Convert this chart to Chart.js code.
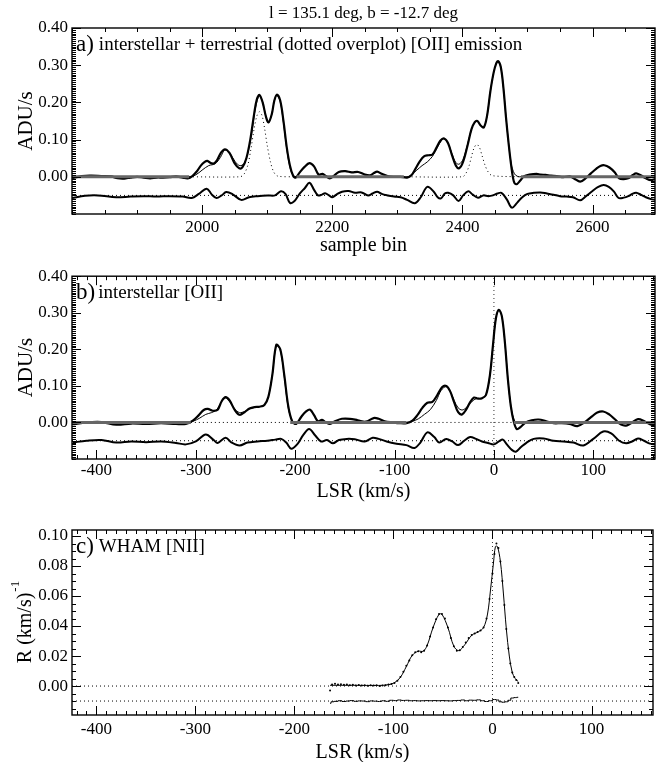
<!DOCTYPE html>
<html><head><meta charset="utf-8">
<script src="https://cdn.jsdelivr.net/npm/chart.js@4/dist/chart.umd.min.js"></script>
<style>
html,body{margin:0;padding:0;background:#fff;}
body{width:657px;height:762px;position:relative;overflow:hidden;font-family:'Liberation Serif',serif;}
canvas{position:absolute;left:0;}
</style></head>
<body>
<canvas id="ca" width="657" height="262" style="top:0px"></canvas>
<canvas id="cb" width="657" height="250" style="top:262px"></canvas>
<canvas id="cc" width="657" height="253" style="top:512px"></canvas>
<script>
// ---------------- DATA ----------------
const mainTitle = "l = 135.1 deg, b = -12.7 deg";
// Panel a: sample bin
const aXTicks = [2000, 2200, 2400, 2600];
const aYTicks = [0.0, 0.1, 0.2, 0.3, 0.4];
const aData = [[1800,-0.004],[1815,0.002],[1830,0.003],[1845,0.002],[1860,0.001],[1870,-0.004],[1880,-0.005],[1890,-0.002],[1900,0.0],[1910,-0.002],[1920,-0.004],[1930,-0.002],[1940,-0.002],[1950,-0.001],[1960,0.001],[1970,-0.002],[1978,-0.004],[1985,0.002],[1992,0.015],[1998,0.03],[2004,0.04],[2008,0.043],[2013,0.037],[2018,0.036],[2023,0.045],[2029,0.065],[2035,0.074],[2042,0.064],[2050,0.036],[2057,0.023],[2062,0.026],[2068,0.05],[2074,0.1],[2080,0.17],[2084,0.208],[2088,0.22],[2093,0.2],[2098,0.162],[2102,0.146],[2107,0.168],[2111,0.205],[2115,0.221],[2120,0.205],[2125,0.15],[2130,0.08],[2135,0.03],[2140,0.002],[2144,-0.002],[2150,0.012],[2157,0.026],[2165,0.037],[2172,0.028],[2179,0.006],[2185,0.008],[2190,0.002],[2196,-0.004],[2202,0.002],[2210,0.013],[2220,0.015],[2230,0.012],[2240,0.013],[2250,0.006],[2258,0.004],[2264,0.01],[2269,0.014],[2276,0.008],[2285,0.002],[2295,0.0],[2305,0.0],[2315,-0.002],[2322,0.005],[2328,0.022],[2334,0.04],[2341,0.055],[2348,0.058],[2354,0.06],[2360,0.078],[2366,0.097],[2372,0.103],[2378,0.09],[2384,0.058],[2390,0.03],[2395,0.023],[2401,0.04],[2408,0.085],[2414,0.128],[2419,0.147],[2423,0.15],[2428,0.138],[2433,0.133],[2438,0.165],[2443,0.23],[2448,0.28],[2452,0.305],[2455,0.311],[2459,0.295],[2463,0.24],[2467,0.16],[2471,0.09],[2475,0.03],[2479,-0.012],[2483,-0.02],[2489,-0.01],[2495,0.002],[2503,0.006],[2514,0.008],[2520,0.006],[2528,0.005],[2536,0.003],[2545,0.002],[2555,-0.001],[2565,0.001],[2572,-0.005],[2581,-0.013],[2590,-0.003],[2598,0.01],[2606,0.022],[2612,0.029],[2618,0.031],[2626,0.025],[2634,0.012],[2641,-0.004],[2648,-0.006],[2656,-0.003],[2662,0.005],[2667,0.009],[2674,0.004],[2682,-0.004],[2690,-0.009],[2696,-0.006]];
const aFit = [[1800,0],[1980,0],[1990,0.005],[2000,0.018],[2010,0.03],[2020,0.035],[2028,0.052],[2035,0.072],[2043,0.062],[2051,0.04],[2058,0.03],[2064,0.035],[2070,0.062],[2076,0.115],[2082,0.185],[2088,0.218],[2093,0.2],[2098,0.162],[2102,0.147],[2107,0.168],[2111,0.205],[2115,0.219],[2120,0.202],[2125,0.145],[2130,0.075],[2135,0.025],[2140,0.004],[2146,0],[2315,0],[2322,0.006],[2330,0.018],[2338,0.03],[2346,0.04],[2354,0.055],[2362,0.08],[2368,0.098],[2372,0.102],[2378,0.09],[2384,0.062],[2390,0.038],[2395,0.034],[2401,0.047],[2408,0.088],[2414,0.128],[2419,0.146],[2423,0.149],[2428,0.138],[2433,0.133],[2438,0.165],[2443,0.23],[2448,0.28],[2452,0.305],[2455,0.31],[2459,0.295],[2463,0.24],[2467,0.16],[2471,0.09],[2475,0.035],[2480,0.008],[2485,0.001],[2490,0],[2696,0]];
const aTerr = [[1980,0],[2058,0],[2064,0.006],[2070,0.03],[2075,0.075],[2080,0.13],[2084,0.163],[2088,0.175],[2092,0.165],[2096,0.13],[2100,0.085],[2105,0.04],[2110,0.013],[2116,0.002],[2145,0],null,[2310,0],[2400,0],[2405,0.008],[2410,0.028],[2414,0.055],[2418,0.078],[2422,0.087],[2426,0.08],[2430,0.058],[2435,0.03],[2440,0.012],[2446,0.003],[2490,0]];
const aZeroSegs = [[1800,1980],[2145,2310],[2490,2696]];
const aRes = [[1800,-0.057],[1820,-0.051],[1840,-0.05],[1868,-0.055],[1890,-0.053],[1910,-0.052],[1930,-0.053],[1950,-0.052],[1970,-0.053],[1984,-0.057],[1995,-0.046],[2007,-0.032],[2015,-0.048],[2022,-0.057],[2030,-0.05],[2037,-0.041],[2047,-0.047],[2060,-0.062],[2072,-0.055],[2085,-0.052],[2100,-0.05],[2112,-0.05],[2121,-0.039],[2128,-0.046],[2135,-0.07],[2142,-0.065],[2150,-0.045],[2158,-0.03],[2165,-0.016],[2172,-0.035],[2178,-0.05],[2184,-0.048],[2189,-0.044],[2195,-0.05],[2200,-0.055],[2207,-0.047],[2215,-0.04],[2225,-0.038],[2235,-0.043],[2245,-0.042],[2255,-0.05],[2262,-0.045],[2269,-0.04],[2276,-0.046],[2285,-0.05],[2295,-0.053],[2305,-0.055],[2315,-0.062],[2327,-0.071],[2336,-0.055],[2346,-0.027],[2356,-0.04],[2362,-0.055],[2367,-0.058],[2373,-0.045],[2378,-0.043],[2386,-0.05],[2394,-0.065],[2401,-0.05],[2409,-0.039],[2416,-0.048],[2424,-0.056],[2432,-0.05],[2440,-0.052],[2447,-0.05],[2454,-0.045],[2460,-0.043],[2468,-0.06],[2476,-0.083],[2484,-0.07],[2492,-0.055],[2500,-0.046],[2510,-0.043],[2520,-0.042],[2530,-0.045],[2540,-0.048],[2550,-0.052],[2560,-0.053],[2570,-0.055],[2581,-0.063],[2590,-0.052],[2600,-0.038],[2608,-0.028],[2617,-0.022],[2625,-0.027],[2633,-0.04],[2640,-0.057],[2648,-0.056],[2655,-0.052],[2661,-0.046],[2667,-0.043],[2674,-0.048],[2682,-0.055],[2690,-0.06],[2696,-0.062]];
const aResBase = -0.05;

// Panel b: LSR km/s
const bXTicks = [-400, -300, -200, -100, 0, 100];
const bYTicks = [0.0, 0.1, 0.2, 0.3, 0.4];
const bData = [[-424,-0.005],[-410,0.0],[-395,0.001],[-380,-0.006],[-365,-0.003],[-350,-0.004],[-335,-0.002],[-320,-0.004],[-310,-0.004],[-303,0.005],[-297,0.02],[-292,0.034],[-288,0.037],[-283,0.032],[-278,0.035],[-274,0.058],[-270,0.069],[-266,0.06],[-261,0.035],[-256,0.021],[-251,0.028],[-246,0.038],[-241,0.042],[-236,0.043],[-231,0.048],[-227,0.07],[-223,0.13],[-219,0.212],[-215,0.2],[-211,0.13],[-207,0.045],[-203,0.003],[-199,-0.004],[-194,0.015],[-189,0.03],[-185,0.035],[-181,0.02],[-177,0.003],[-173,0.007],[-169,0.0],[-165,-0.004],[-160,0.003],[-153,0.01],[-145,0.01],[-137,0.006],[-129,0.002],[-121,0.012],[-116,0.01],[-110,0.003],[-102,0.0],[-95,-0.002],[-88,-0.002],[-82,0.005],[-77,0.02],[-72,0.04],[-67,0.054],[-62,0.056],[-57,0.075],[-52,0.097],[-48,0.1],[-44,0.085],[-40,0.055],[-36,0.028],[-32,0.022],[-28,0.035],[-24,0.055],[-20,0.068],[-16,0.065],[-12,0.066],[-8,0.075],[-4,0.13],[-1,0.21],[2,0.285],[5,0.308],[8,0.29],[11,0.22],[14,0.12],[17,0.045],[20,0.002],[23,-0.018],[27,-0.012],[32,0.0],[38,0.006],[45,0.008],[52,0.004],[60,-0.002],[68,-0.002],[76,-0.004],[84,-0.01],[91,0.0],[98,0.015],[104,0.027],[110,0.03],[116,0.022],[122,0.008],[128,-0.006],[134,-0.008],[139,0.0],[145,0.009],[151,0.004],[157,-0.005],[162,-0.008]];
const bFit = [[-424,0],[-310,0],[-303,0.003],[-296,0.012],[-290,0.022],[-284,0.027],[-279,0.035],[-274,0.057],[-270,0.067],[-266,0.058],[-261,0.037],[-256,0.027],[-251,0.03],[-246,0.037],[-241,0.041],[-236,0.043],[-231,0.048],[-227,0.07],[-223,0.13],[-219,0.21],[-215,0.198],[-211,0.125],[-207,0.04],[-203,0.005],[-199,0],[-88,0],[-82,0.003],[-76,0.01],[-70,0.022],[-64,0.035],[-58,0.06],[-53,0.088],[-48,0.098],[-44,0.085],[-40,0.06],[-36,0.04],[-32,0.034],[-28,0.04],[-24,0.052],[-20,0.062],[-16,0.066],[-12,0.066],[-8,0.075],[-4,0.13],[-1,0.21],[2,0.285],[5,0.307],[8,0.29],[11,0.22],[14,0.12],[17,0.045],[20,0.01],[23,0.0],[162,0]];
const bDotZeroSegs = [[-305,-205],[-88,20]];
const bZeroSegs = [[-424,-305],[-205,-88],[20,162]];
const bRes = [[-424,-0.055],[-410,-0.05],[-395,-0.048],[-380,-0.055],[-365,-0.052],[-350,-0.054],[-335,-0.052],[-320,-0.056],[-310,-0.06],[-300,-0.052],[-290,-0.033],[-282,-0.048],[-278,-0.056],[-270,-0.042],[-264,-0.055],[-256,-0.063],[-248,-0.055],[-238,-0.052],[-228,-0.05],[-220,-0.047],[-214,-0.045],[-209,-0.055],[-204,-0.072],[-198,-0.06],[-192,-0.035],[-186,-0.018],[-180,-0.035],[-174,-0.052],[-168,-0.048],[-162,-0.057],[-156,-0.048],[-148,-0.045],[-140,-0.046],[-130,-0.052],[-122,-0.042],[-116,-0.045],[-108,-0.052],[-98,-0.058],[-88,-0.062],[-80,-0.07],[-74,-0.055],[-67,-0.027],[-60,-0.04],[-55,-0.055],[-48,-0.045],[-42,-0.052],[-36,-0.062],[-30,-0.05],[-24,-0.04],[-18,-0.045],[-12,-0.052],[-6,-0.056],[0,-0.06],[5,-0.052],[9,-0.047],[13,-0.06],[18,-0.075],[22,-0.08],[27,-0.068],[33,-0.055],[40,-0.045],[50,-0.044],[60,-0.05],[70,-0.052],[80,-0.055],[90,-0.063],[100,-0.045],[110,-0.025],[118,-0.03],[126,-0.05],[133,-0.057],[139,-0.052],[145,-0.044],[151,-0.05],[157,-0.058],[162,-0.06]];
const bResBase = -0.05;

// Panel c: WHAM [NII]
const cXTicks = [-400, -300, -200, -100, 0, 100];
const cYTicks = [0.00, 0.02, 0.04, 0.06, 0.08, 0.10];
const cPoints = [[-164,-0.003],[-162,0.001],[-159,0.0015],[-156,0.001],[-153,0.0012],[-150,0.0008],[-147,0.001],[-144,0.0005],[-141,0.0009],[-138,0.0004],[-135,0.0007],[-132,0.0003],[-129,0.0006],[-126,0.0002],[-123,0.0005],[-120,0.0003],[-117,0.0005],[-114,0.0001],[-111,0.0003],[-108,0.0006],[-105,0.001],[-102,0.0013],[-99,0.002],[-96,0.0035],[-93,0.006],[-90,0.0095],[-87,0.0135],[-84,0.017],[-81,0.0205],[-78,0.0225],[-75,0.0232],[-72,0.0225],[-69,0.0235],[-66,0.027],[-63,0.033],[-60,0.039],[-57,0.0445],[-54,0.048],[-51,0.048],[-48,0.045],[-45,0.039],[-42,0.032],[-39,0.0265],[-36,0.0235],[-33,0.0238],[-30,0.026],[-27,0.029],[-24,0.032],[-21,0.034],[-18,0.035],[-15,0.036],[-12,0.037],[-9,0.039],[-6,0.045],[-3,0.058],[0,0.075],[2,0.088],[4,0.095],[6,0.092],[8,0.083],[10,0.07],[12,0.054],[14,0.038],[16,0.025],[18,0.015],[20,0.009],[22,0.006],[24,0.004],[26,0.002]];
const cFit = [[-164,0.0005],[-140,0.0005],[-115,0.0004],[-105,0.0009],[-99,0.0022],[-93,0.0058],[-87,0.013],[-81,0.0205],[-75,0.0232],[-70,0.0232],[-66,0.027],[-60,0.039],[-54,0.0478],[-51,0.0478],[-45,0.039],[-39,0.0265],[-34,0.0236],[-28,0.0275],[-21,0.0338],[-14,0.0363],[-9,0.039],[-5,0.048],[-2,0.064],[1,0.082],[3,0.093],[5,0.093],[8,0.083],[11,0.062],[14,0.038],[17,0.02],[20,0.009],[23,0.005],[26,0.003]];
const cRes = [[-164,-0.0115],[-162,-0.0105],[-158,-0.0102],[-154,-0.0098],[-150,-0.0103],[-146,-0.01],[-142,-0.0097],[-138,-0.0102],[-134,-0.0099],[-130,-0.01],[-126,-0.0104],[-122,-0.0099],[-118,-0.0101],[-114,-0.0103],[-110,-0.0098],[-106,-0.0102],[-102,-0.0095],[-98,-0.0097],[-94,-0.0093],[-90,-0.0096],[-86,-0.0095],[-82,-0.0098],[-78,-0.0097],[-74,-0.0099],[-70,-0.0098],[-66,-0.0097],[-62,-0.0098],[-58,-0.0097],[-54,-0.0098],[-50,-0.0097],[-46,-0.0098],[-42,-0.0099],[-38,-0.0097],[-34,-0.0096],[-30,-0.0093],[-26,-0.0098],[-22,-0.0094],[-18,-0.0095],[-14,-0.0092],[-10,-0.0098],[-6,-0.0103],[-2,-0.0098],[2,-0.009],[5,-0.0093],[8,-0.0105],[11,-0.0108],[14,-0.0105],[17,-0.0095],[20,-0.008],[23,-0.0077],[26,-0.0075]];
const cZero = 0.0, cResBase = -0.01;

// ---------------- HELPERS ----------------
const FONT = "'Liberation Serif', 'Times New Roman', serif";
Chart.defaults.font.family = FONT;
Chart.defaults.color = '#000';
const pts = arr => arr.map(p => p ? {x:p[0], y:p[1]} : {x:NaN, y:null});
function segs(list, yv){ const out=[]; list.forEach(s=>{out.push({x:s[0],y:yv},{x:s[1],y:yv},{x:s[1],y:null});}); return out; }
function line(data, opt){ return Object.assign({data, borderColor:'#000', borderWidth:1, pointRadius:0, fill:false, tension:0.35, spanGaps:false}, opt||{}); }

const framePlugin = {
  id:'frame',
  afterDraw(chart){
    const o = chart.options.plugins.frame;
    const {ctx, chartArea:a, scales:{x,y}} = chart;
    ctx.save();
    ctx.strokeStyle='#000';
    ctx.lineWidth=1;
    ctx.beginPath();
    const xt=(v,len)=>{const p=Math.round(x.getPixelForValue(v))+0.5; ctx.moveTo(p,a.bottom); ctx.lineTo(p,a.bottom-len); ctx.moveTo(p,a.top); ctx.lineTo(p,a.top+len);};
    const yt=(v,len)=>{const p=Math.round(y.getPixelForValue(v))+0.5; ctx.moveTo(a.left,p); ctx.lineTo(a.left+len,p); ctx.moveTo(a.right,p); ctx.lineTo(a.right-len,p);};
    for(let v=Math.ceil(x.min/o.xMinor)*o.xMinor; v<=x.max; v+=o.xMinor) xt(v,4);
    o.xTicks.forEach(v=>xt(v,9));
    for(let k=Math.ceil(y.min/o.yMinor-1e-6); k*o.yMinor<=y.max+1e-9; k++) yt(k*o.yMinor,4);
    o.yTicks.forEach(v=>yt(v,9));
    ctx.stroke();
    ctx.lineWidth=1.4;
    ctx.strokeRect(a.left, a.top, a.right-a.left, a.bottom-a.top);
    // panel label
    ctx.fillStyle='#000';
    ctx.textBaseline='alphabetic';
    ctx.textAlign='left';
    ctx.font = '23px '+FONT;
    ctx.fillText(o.tag, a.left+4, a.top+23);
    const tw = ctx.measureText(o.tag).width;
    ctx.font = '19px '+FONT;
    ctx.fillText(o.label, a.left+4+tw+o.gap, a.top+22);
    if(o.title){
      ctx.font='17px '+FONT; ctx.textAlign='center';
      ctx.fillText(o.title, (a.left+a.right)/2, 18);
    }
    if(o.ySup){
      ctx.translate(26, (a.top+a.bottom)/2);
      ctx.rotate(-Math.PI/2);
      ctx.font='20px '+FONT;
      const w1=ctx.measureText(o.ySup[0]).width;
      ctx.font='13px '+FONT;
      const w2=ctx.measureText(o.ySup[1]).width;
      const st=-(w1+w2)/2;
      ctx.textAlign='left'; ctx.textBaseline='middle';
      ctx.font='20px '+FONT; ctx.fillText(o.ySup[0], st, 0);
      ctx.font='13px '+FONT; ctx.fillText(o.ySup[1], st+w1+1, -10);
    }
    ctx.restore();
  }
};

function makeChart(id, cfg){
  return new Chart(document.getElementById(id), {
    type:'line',
    data:{datasets:cfg.datasets},
    options:{
      responsive:false, animation:false, events:[],
      layout:{padding:{top:cfg.padTop, right:2, left:0, bottom:0}},
      plugins:{legend:{display:false}, tooltip:{enabled:false}, title:{display:false},
        frame:{xTicks:cfg.xTicks, yTicks:cfg.yTicks, xMinor:cfg.xMinor, yMinor:cfg.yMinor, tag:cfg.tag, label:cfg.label, gap:cfg.gap, title:cfg.title, ySup:cfg.ySup}},
      scales:{
        x:{type:'linear', position:'bottom', min:cfg.xMin, max:cfg.xMax,
          grid:{display:false, drawTicks:false}, border:{display:false},
          afterBuildTicks: s => { s.ticks = cfg.xTicks.map(v=>({value:v})); },
          afterFit: s => { s.height = cfg.xH; },
          ticks:{color:'#000', font:{family:FONT, size:17}, padding:cfg.xTickPad, maxRotation:0, autoSkip:false, callback:v=>String(v)},
          title:{display:true, text:cfg.xTitle, color:'#000', font:{family:FONT, size:20}, padding:{top:0,bottom:cfg.xTitlePad}}
        },
        y:{type:'linear', position:'left', min:cfg.yMin, max:cfg.yMax,
          grid:{display:false, drawTicks:false}, border:{display:false},
          afterBuildTicks: s => { s.ticks = cfg.yTicks.map(v=>({value:v})); },
          afterFit: s => { s.width = 72; },
          ticks:{color:'#000', font:{family:FONT, size:17}, padding:4, autoSkip:false, callback:v=>v.toFixed(2)},
          title:{display:!!cfg.yTitle, text:cfg.yTitle||'', color:'#000', font:{family:FONT, size:21}, padding:{top:14,bottom:0}}
        }
      }
    },
    plugins:[framePlugin]
  });
}

// Panel a
makeChart('ca', {
  padTop:28, xH:48, xTitlePad:4, xTickPad:3, xMin:1800, xMax:2696, yMin:-0.1, yMax:0.4,
  xTicks:aXTicks, yTicks:aYTicks, xMinor:50, yMinor:0.005,
  xTitle:'sample bin', yTitle:'ADU/s', tag:'a)', gap:5,
  label:'interstellar + terrestrial (dotted overplot) [OII] emission', title:mainTitle,
  datasets:[
    line(segs(aZeroSegs,0), {borderColor:'#666', borderWidth:3, tension:0}),
    line(pts(aTerr), {borderDash:[1,3], tension:0.3}),
    line(segs([[1800,2696]], aResBase), {borderDash:[1,3], tension:0}),
    line(pts(aFit), {borderWidth:1}),
    line(pts(aData), {borderWidth:2.2}),
    line(pts(aRes), {borderWidth:2})
  ]
});
// Panel b
makeChart('cb', {
  padTop:11, xH:53, xTitlePad:8, xTickPad:1, xMin:-424.6, xMax:162.1, yMin:-0.1, yMax:0.4,
  xTicks:bXTicks, yTicks:bYTicks, xMinor:10, yMinor:0.005,
  xTitle:'LSR (km/s)', yTitle:'ADU/s', tag:'b)', gap:3,
  label:'interstellar [OII]',
  datasets:[
    line(segs(bZeroSegs,0), {borderColor:'#666', borderWidth:3, tension:0}),
    line(segs(bDotZeroSegs,0), {borderDash:[1,3], tension:0}),
    line(segs([[-424.6,162.1]], bResBase), {borderDash:[1,3], tension:0}),
    line([{x:0,y:-0.1},{x:0,y:0.4}], {borderDash:[1,3], tension:0, borderWidth:0.8}),
    line(pts(bFit), {borderWidth:1}),
    line(pts(bData), {borderWidth:2.2}),
    line(pts(bRes), {borderWidth:2})
  ]
});
// Panel c
makeChart('cc', {
  padTop:18, xH:50, xTitlePad:0, xTickPad:4, xMin:-424.6, xMax:162.1, yMin:-0.0193, yMax:0.104,
  xTicks:cXTicks, yTicks:cYTicks, xMinor:10, yMinor:0.005,
  xTitle:'LSR (km/s)', yTitle:null, ySup:['R (km/s)','-1'], tag:'c)', gap:5,
  label:'WHAM [NII]',
  datasets:[
    line(segs([[-424.6,162.1]], cZero), {borderDash:[1,3], tension:0}),
    line(segs([[-424.6,162.1]], cResBase), {borderDash:[1,3], tension:0}),
    line([{x:0,y:-0.0193},{x:0,y:0.104}], {borderDash:[1,3], tension:0, borderWidth:0.8}),
    line(pts(cFit), {borderWidth:1}),
    Object.assign(line(pts(cPoints), {showLine:false}), {pointRadius:1, pointBackgroundColor:'#000', pointBorderWidth:0}),
    line(pts(cRes), {borderWidth:1, stepped:'middle', tension:0})
  ]
});
</script>
</body></html>
